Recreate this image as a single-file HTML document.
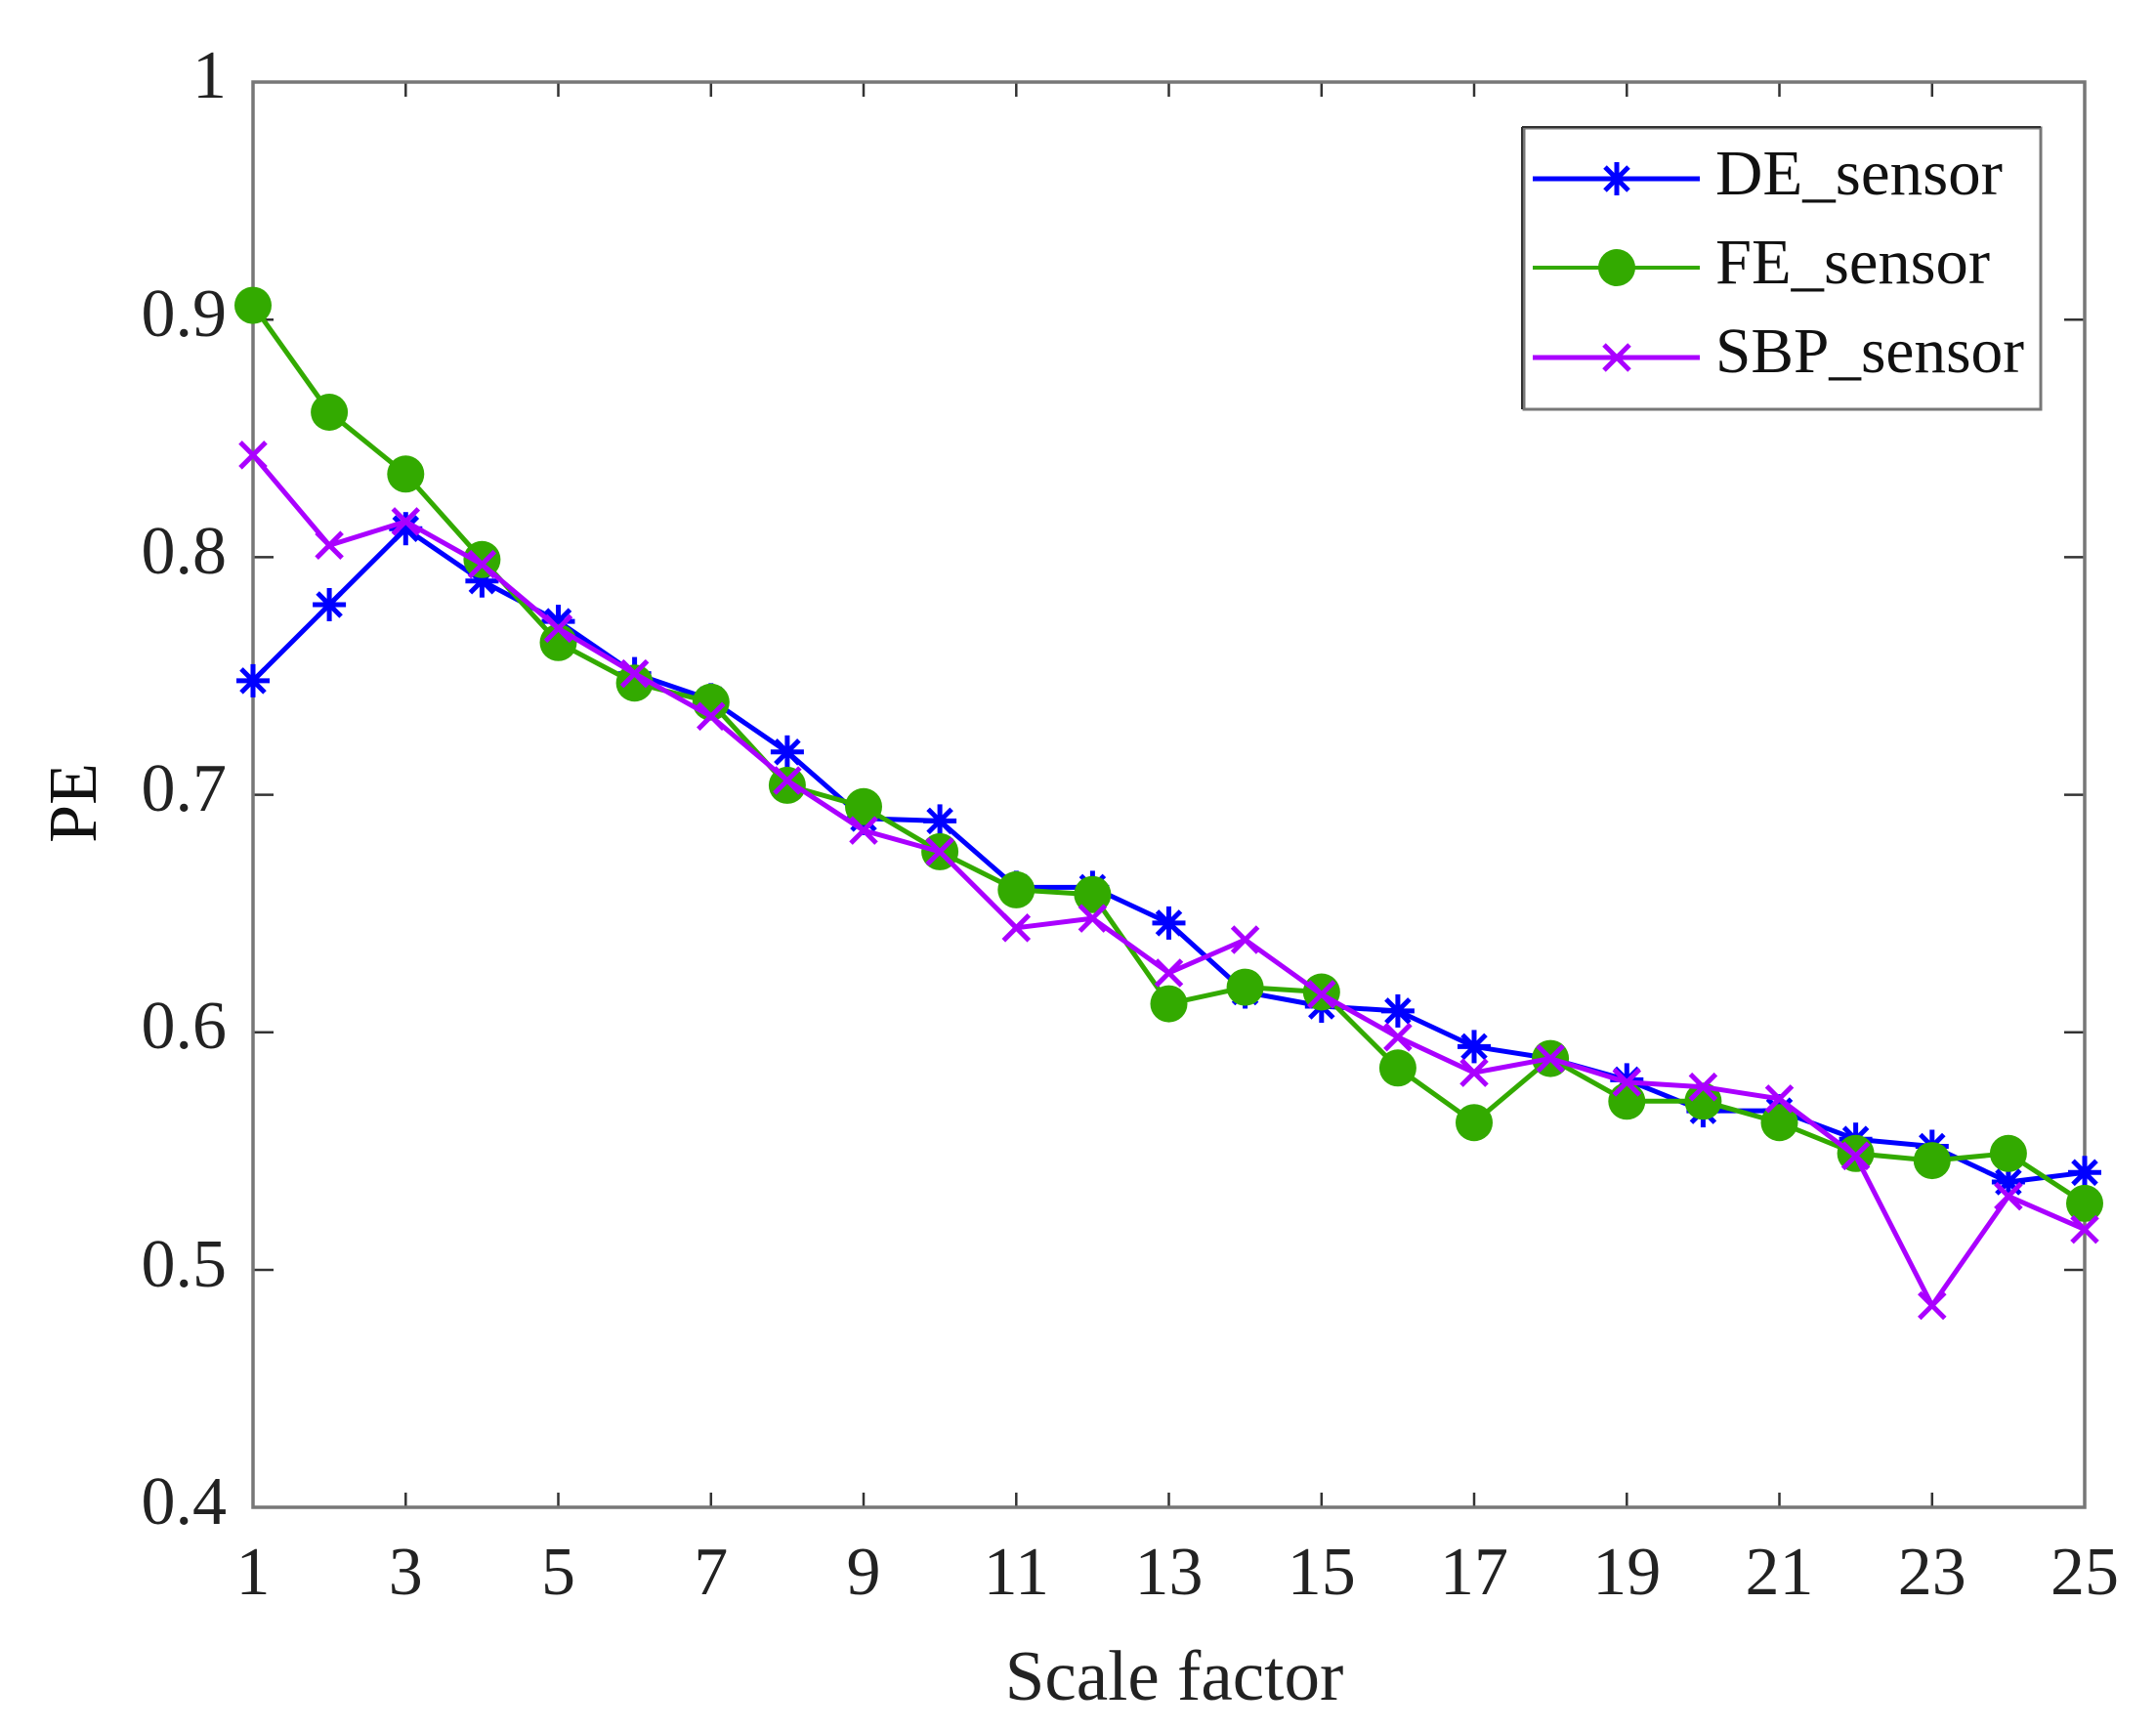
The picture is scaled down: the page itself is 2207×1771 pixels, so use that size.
<!DOCTYPE html>
<html><head><meta charset="utf-8">
<style>html,body{margin:0;padding:0;background:#fff;}svg{display:block;}</style>
</head><body>
<svg width="2207" height="1771" viewBox="0 0 2207 1771" xmlns="http://www.w3.org/2000/svg" font-family="Liberation Serif, serif">
<defs>
<g id="ast" stroke="#0000ff" stroke-width="5" fill="none"><line x1="-17" y1="0" x2="17" y2="0"/><line x1="0" y1="-17" x2="0" y2="17"/><line x1="-12" y1="-12" x2="12" y2="12"/><line x1="-12" y1="12" x2="12" y2="-12"/></g>
<circle id="dot" r="19" fill="#33aa00"/>
<g id="xx" stroke="#aa00ff" stroke-width="5"><line x1="-13" y1="-13" x2="13" y2="13"/><line x1="-13" y1="13" x2="13" y2="-13"/></g>
</defs>
<rect x="0" y="0" width="2207" height="1771" fill="#fff"/>
<g stroke="#333" stroke-width="2.5">
<line x1="415.3" y1="1543" x2="415.3" y2="1528"/><line x1="571.5" y1="1543" x2="571.5" y2="1528"/><line x1="727.8" y1="1543" x2="727.8" y2="1528"/><line x1="884" y1="1543" x2="884" y2="1528"/><line x1="1040.3" y1="1543" x2="1040.3" y2="1528"/><line x1="1196.5" y1="1543" x2="1196.5" y2="1528"/><line x1="1352.8" y1="1543" x2="1352.8" y2="1528"/><line x1="1509" y1="1543" x2="1509" y2="1528"/><line x1="1665.3" y1="1543" x2="1665.3" y2="1528"/><line x1="1821.5" y1="1543" x2="1821.5" y2="1528"/><line x1="1977.8" y1="1543" x2="1977.8" y2="1528"/>
<line x1="415.3" y1="84" x2="415.3" y2="99"/><line x1="571.5" y1="84" x2="571.5" y2="99"/><line x1="727.8" y1="84" x2="727.8" y2="99"/><line x1="884" y1="84" x2="884" y2="99"/><line x1="1040.3" y1="84" x2="1040.3" y2="99"/><line x1="1196.5" y1="84" x2="1196.5" y2="99"/><line x1="1352.8" y1="84" x2="1352.8" y2="99"/><line x1="1509" y1="84" x2="1509" y2="99"/><line x1="1665.3" y1="84" x2="1665.3" y2="99"/><line x1="1821.5" y1="84" x2="1821.5" y2="99"/><line x1="1977.8" y1="84" x2="1977.8" y2="99"/>
<line x1="259" y1="327.2" x2="280" y2="327.2"/><line x1="259" y1="570.4" x2="280" y2="570.4"/><line x1="259" y1="813.6" x2="280" y2="813.6"/><line x1="259" y1="1056.8" x2="280" y2="1056.8"/><line x1="259" y1="1300" x2="280" y2="1300"/>
<line x1="2134" y1="327.2" x2="2113" y2="327.2"/><line x1="2134" y1="570.4" x2="2113" y2="570.4"/><line x1="2134" y1="813.6" x2="2113" y2="813.6"/><line x1="2134" y1="1056.8" x2="2113" y2="1056.8"/><line x1="2134" y1="1300" x2="2113" y2="1300"/>
</g>
<rect x="259" y="84" width="1875" height="1459" fill="none" stroke="#777" stroke-width="3.5"/>
<g font-size="70" fill="#222" text-anchor="end">
<text x="232" y="100">1</text><text x="232" y="344">0.9</text><text x="232" y="587">0.8</text><text x="232" y="830">0.7</text><text x="232" y="1073">0.6</text><text x="232" y="1317">0.5</text><text x="232" y="1560">0.4</text>
</g>
<g font-size="70" fill="#222" text-anchor="middle">
<text x="259" y="1632">1</text><text x="415.3" y="1632">3</text><text x="571.5" y="1632">5</text><text x="727.8" y="1632">7</text><text x="884" y="1632">9</text><text x="1040.3" y="1632">11</text><text x="1196.5" y="1632">13</text><text x="1352.8" y="1632">15</text><text x="1509" y="1632">17</text><text x="1665.3" y="1632">19</text><text x="1821.5" y="1632">21</text><text x="1977.8" y="1632">23</text><text x="2134" y="1632">25</text>
</g>
<text x="1202" y="1740" font-size="73" fill="#222" text-anchor="middle">Scale factor</text>
<text transform="translate(98,822) rotate(-90)" font-size="70" fill="#111" text-anchor="middle">PE</text>
<polyline fill="none" stroke="#0000ff" stroke-width="5" stroke-linejoin="round" points="259,696.9 337.1,619 415.3,541.2 493.4,594.7 571.5,636.1 649.6,689.6 727.8,716.3 805.9,769.8 884,837.9 962.1,840.4 1040.3,908.4 1118.4,908.4 1196.5,944.9 1274.6,1015.5 1352.8,1030 1430.9,1034.9 1509,1071.4 1587.1,1083.6 1665.3,1105.4 1743.4,1137.1 1821.5,1137.1 1899.6,1166.2 1977.8,1173.5 2055.9,1210 2134,1200.3"/>
<g>
<use href="#ast" x="259" y="696.9"/><use href="#ast" x="337.1" y="619"/><use href="#ast" x="415.3" y="541.2"/><use href="#ast" x="493.4" y="594.7"/><use href="#ast" x="571.5" y="636.1"/><use href="#ast" x="649.6" y="689.6"/><use href="#ast" x="727.8" y="716.3"/><use href="#ast" x="805.9" y="769.8"/><use href="#ast" x="884" y="837.9"/><use href="#ast" x="962.1" y="840.4"/><use href="#ast" x="1040.3" y="908.4"/><use href="#ast" x="1118.4" y="908.4"/><use href="#ast" x="1196.5" y="944.9"/><use href="#ast" x="1274.6" y="1015.5"/><use href="#ast" x="1352.8" y="1030"/><use href="#ast" x="1430.9" y="1034.9"/><use href="#ast" x="1509" y="1071.4"/><use href="#ast" x="1587.1" y="1083.6"/><use href="#ast" x="1665.3" y="1105.4"/><use href="#ast" x="1743.4" y="1137.1"/><use href="#ast" x="1821.5" y="1137.1"/><use href="#ast" x="1899.6" y="1166.2"/><use href="#ast" x="1977.8" y="1173.5"/><use href="#ast" x="2055.9" y="1210"/><use href="#ast" x="2134" y="1200.3"/>
</g>
<polyline fill="none" stroke="#33aa00" stroke-width="5" stroke-linejoin="round" points="259,312.6 337.1,422 415.3,485.3 493.4,572.8 571.5,657.8 649.6,699.2 727.8,718.8 805.9,803.9 884,825.8 962.1,871.9 1040.3,910.9 1118.4,915.7 1196.5,1027.6 1274.6,1010.6 1352.8,1015.5 1430.9,1093.3 1509,1149.2 1587.1,1083.6 1665.3,1127.3 1743.4,1127.3 1821.5,1149.2 1899.6,1180.8 1977.8,1188.1 2055.9,1180.8 2134,1231.9"/>
<g>
<use href="#dot" x="259" y="312.6"/><use href="#dot" x="337.1" y="422"/><use href="#dot" x="415.3" y="485.3"/><use href="#dot" x="493.4" y="572.8"/><use href="#dot" x="571.5" y="657.8"/><use href="#dot" x="649.6" y="699.2"/><use href="#dot" x="727.8" y="718.8"/><use href="#dot" x="805.9" y="803.9"/><use href="#dot" x="884" y="825.8"/><use href="#dot" x="962.1" y="871.9"/><use href="#dot" x="1040.3" y="910.9"/><use href="#dot" x="1118.4" y="915.7"/><use href="#dot" x="1196.5" y="1027.6"/><use href="#dot" x="1274.6" y="1010.6"/><use href="#dot" x="1352.8" y="1015.5"/><use href="#dot" x="1430.9" y="1093.3"/><use href="#dot" x="1509" y="1149.2"/><use href="#dot" x="1587.1" y="1083.6"/><use href="#dot" x="1665.3" y="1127.3"/><use href="#dot" x="1743.4" y="1127.3"/><use href="#dot" x="1821.5" y="1149.2"/><use href="#dot" x="1899.6" y="1180.8"/><use href="#dot" x="1977.8" y="1188.1"/><use href="#dot" x="2055.9" y="1180.8"/><use href="#dot" x="2134" y="1231.9"/>
</g>
<polyline fill="none" stroke="#aa00ff" stroke-width="5" stroke-linejoin="round" points="259,465.8 337.1,558.2 415.3,533.9 493.4,577.7 571.5,643.4 649.6,689.6 727.8,733.3 805.9,799 884,850.1 962.1,871.9 1040.3,949.8 1118.4,940.1 1196.5,996 1274.6,962 1352.8,1017.9 1430.9,1061.7 1509,1098.1 1587.1,1083.6 1665.3,1107.9 1743.4,1112.7 1821.5,1124.9 1899.6,1183.3 1977.8,1336.5 2055.9,1224.6 2134,1258.6"/>
<g>
<use href="#xx" x="259" y="465.8"/><use href="#xx" x="337.1" y="558.2"/><use href="#xx" x="415.3" y="533.9"/><use href="#xx" x="493.4" y="577.7"/><use href="#xx" x="571.5" y="643.4"/><use href="#xx" x="649.6" y="689.6"/><use href="#xx" x="727.8" y="733.3"/><use href="#xx" x="805.9" y="799"/><use href="#xx" x="884" y="850.1"/><use href="#xx" x="962.1" y="871.9"/><use href="#xx" x="1040.3" y="949.8"/><use href="#xx" x="1118.4" y="940.1"/><use href="#xx" x="1196.5" y="996"/><use href="#xx" x="1274.6" y="962"/><use href="#xx" x="1352.8" y="1017.9"/><use href="#xx" x="1430.9" y="1061.7"/><use href="#xx" x="1509" y="1098.1"/><use href="#xx" x="1587.1" y="1083.6"/><use href="#xx" x="1665.3" y="1107.9"/><use href="#xx" x="1743.4" y="1112.7"/><use href="#xx" x="1821.5" y="1124.9"/><use href="#xx" x="1899.6" y="1183.3"/><use href="#xx" x="1977.8" y="1336.5"/><use href="#xx" x="2055.9" y="1224.6"/><use href="#xx" x="2134" y="1258.6"/>
</g>
<rect x="1560" y="131" width="529" height="288" fill="#fff" stroke="#777" stroke-width="3"/>
<line x1="1558" y1="130" x2="2089" y2="130" stroke="#333" stroke-width="2"/>
<line x1="1558" y1="130" x2="1558" y2="419" stroke="#333" stroke-width="2"/>
<line x1="1569" y1="183" x2="1740" y2="183" stroke="#0000ff" stroke-width="5"/><use href="#ast" x="1655" y="183"/>
<line x1="1569" y1="274" x2="1740" y2="274" stroke="#33aa00" stroke-width="4"/><use href="#dot" x="1655" y="274"/>
<line x1="1569" y1="366" x2="1740" y2="366" stroke="#aa00ff" stroke-width="5"/><use href="#xx" x="1655" y="366"/>
<g font-size="66" fill="#111">
<text x="1756" y="199" textLength="294" lengthAdjust="spacingAndGlyphs">DE_sensor</text><text x="1756" y="290" textLength="281" lengthAdjust="spacingAndGlyphs">FE_sensor</text><text x="1756" y="381" textLength="316" lengthAdjust="spacingAndGlyphs">SBP_sensor</text>
</g>
</svg>
</body></html>
